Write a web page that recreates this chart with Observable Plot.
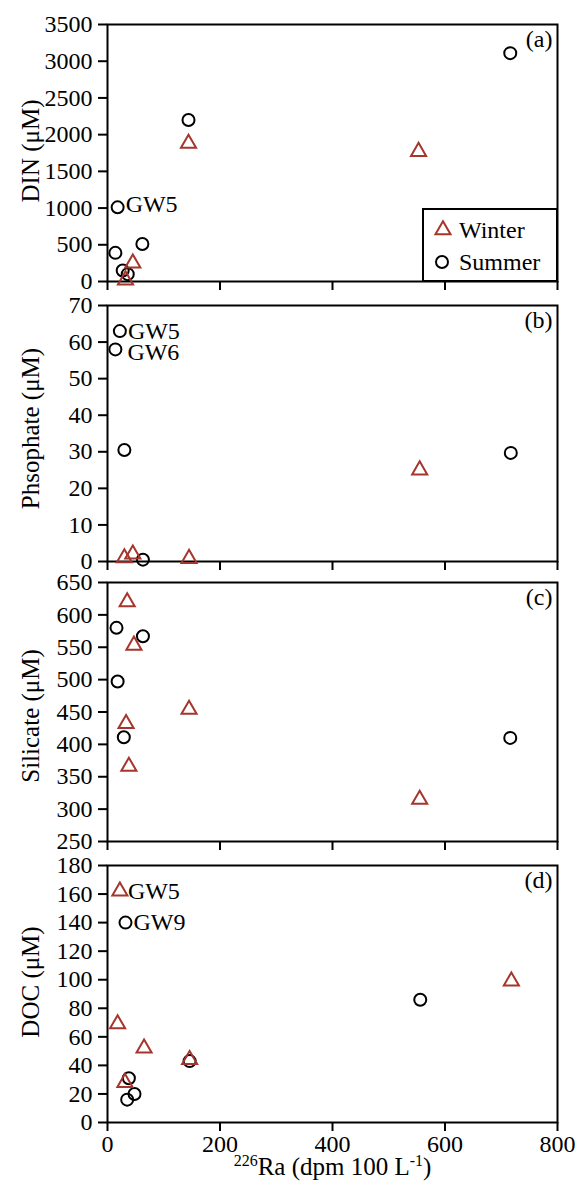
<!DOCTYPE html>
<html><head><meta charset="utf-8">
<script src="https://cdn.jsdelivr.net/npm/d3@7"></script>
<script src="https://cdn.jsdelivr.net/npm/@observablehq/plot@0.6"></script>
<style>
body{margin:0;background:#fff;}
#wrap{position:relative;width:576px;height:1187px;font-family:"Liberation Serif","Times New Roman",serif;}
#wrap svg{display:block;overflow:visible;}
#legend{position:absolute;left:0;top:0;pointer-events:none;}
</style></head><body><div id="wrap"></div>
<script>
// ---- data (x = 226Ra, dpm 100 L-1) ----
const xTicks = [0, 200, 400, 600, 800];

const dinWinterRa  = [32, 45, 144, 553];
const dinWinter    = [20, 250, 1880, 1770];
const dinSummerRa  = [18, 14, 62, 27, 36, 144, 716];
const dinSummer    = [1010, 390, 510, 150, 100, 2200, 3110];
const dinTicks     = [0, 500, 1000, 1500, 2000, 2500, 3000, 3500];

const phoWinterRa  = [30, 45, 145, 555];
const phoWinter    = [1, 2, 0.8, 25];
const phoSummerRa  = [22, 14, 30, 63, 717];
const phoSummer    = [63, 58, 30.5, 0.5, 29.7];
const phoTicks     = [0, 10, 20, 30, 40, 50, 60, 70];

const silWinterRa  = [35, 47, 145, 33, 38, 555];
const silWinter    = [620, 553, 454, 432, 366, 315];
const silSummerRa  = [16, 63, 18, 29, 716];
const silSummer    = [580, 567, 497, 411, 410];
const silTicks     = [250, 300, 350, 400, 450, 500, 550, 600, 650];

const docWinterRa  = [22, 18, 65, 146, 31, 718];
const docWinter    = [162, 69, 52, 44, 28, 99];
const docSummerRa  = [32, 146, 38, 48, 35, 556];
const docSummer    = [140, 43, 31, 20, 16, 86];
const docTicks     = [0, 20, 40, 60, 80, 100, 120, 140, 160, 180];

const seasons = ["Winter", "Summer"];
const xLabel = "226Ra (dpm 100 L-1)";

const RED = "#a5352d";
const FONT = '"Liberation Serif","Times New Roman",serif';

const zip = (xs, ys) => xs.map((x, i) => ({x, y: ys[i]}));

function panel(o) {
  const summer = zip(o.sRa, o.sVal);
  const winter = zip(o.wRa, o.wVal);
  const marks = [
    Plot.frame({stroke: "black", strokeWidth: 2}),
    Plot.axisY({ticks: o.yTicks, tickSize: 9, tickPadding: 6, strokeWidth: 2, label: null, tickFormat: "d"}),
    Plot.axisX({ticks: xTicks, tickSize: 9, tickPadding: 3, strokeWidth: 2, label: null,
                tickFormat: o.showX ? "d" : () => ""}),
    Plot.dot(summer, {x: "x", y: "y", r: 6, stroke: "black", strokeWidth: 2, fill: "none"}),
    Plot.dot(winter, {x: "x", y: "y", r: 5.6, symbol: "triangle", stroke: RED, strokeWidth: 2, fill: "none"}),
    Plot.text([o.tag], {frameAnchor: "top-right", dx: -5, dy: 5, lineAnchor: "top", textAnchor: "end", fontSize: 24}),
    Plot.text([o.yLabel], {frameAnchor: "left", rotate: -90, textAnchor: "middle", dx: -77, dy: o.labelDy, fontSize: 25})
  ];
  for (const a of o.notes) {
    const src = a.season === "Winter" ? winter : summer;
    marks.push(Plot.text([src[a.i]], {x: "x", y: "y", text: () => a.text, dx: a.dx, dy: a.dy || 0,
      textAnchor: "start", fontSize: 24}));
  }
  if (o.showX) {
    marks.push(Plot.text([xLabel], {frameAnchor: "bottom", dy: 52, fontSize: 25}));
  }
  const svg = Plot.plot({
    width: 576, height: o.height,
    marginLeft: 107, marginRight: 19, marginTop: o.mt, marginBottom: o.mb,
    x: {domain: [0, 800]},
    y: {domain: o.yDomain},
    style: {fontFamily: FONT, fontSize: "24px", color: "black", background: "transparent", overflow: "visible"},
    marks
  });
  if (o.showX) {
    d3.select(svg).selectAll("text").filter(function() { return this.textContent === xLabel; })
      .each(function() {
        const t = d3.select(this);
        t.text(null);
        t.append("tspan").attr("font-size", 16).attr("dy", -9).text("226");
        t.append("tspan").attr("dy", 9).text("Ra (dpm 100 L");
        t.append("tspan").attr("font-size", 16).attr("dy", -9).text("-1");
        t.append("tspan").attr("dy", 9).text(")");
      });
  }
  return svg;
}

const wrap = document.getElementById("wrap");

wrap.appendChild(panel({
  wRa: dinWinterRa, wVal: dinWinter, sRa: dinSummerRa, sVal: dinSummer,
  yDomain: [0, 3500], yTicks: dinTicks, yLabel: "DIN (μM)", labelDy: -2, tag: "(a)",
  height: 293, mt: 24, mb: 12,
  notes: [{season: "Summer", i: 0, text: "GW5", dx: 8, dy: -3}]
}));
wrap.appendChild(panel({
  wRa: phoWinterRa, wVal: phoWinter, sRa: phoSummerRa, sVal: phoSummer,
  yDomain: [0, 70], yTicks: phoTicks, yLabel: "Phsophate (μM)", labelDy: -5, tag: "(b)",
  height: 278, mt: 12, mb: 10,
  notes: [{season: "Summer", i: 0, text: "GW5", dx: 8}, {season: "Summer", i: 1, text: "GW6", dx: 12, dy: 3}]
}));
wrap.appendChild(panel({
  wRa: silWinterRa, wVal: silWinter, sRa: silSummerRa, sVal: silSummer,
  yDomain: [250, 650], yTicks: silTicks, yLabel: "Silicate (μM)", labelDy: 4, tag: "(c)",
  height: 280, mt: 11, mb: 10, notes: []
}));
wrap.appendChild(panel({
  wRa: docWinterRa, wVal: docWinter, sRa: docSummerRa, sVal: docSummer,
  yDomain: [0, 180], yTicks: docTicks, yLabel: "DOC (μM)", labelDy: -12, tag: "(d)",
  height: 336, mt: 14, mb: 65, showX: true,
  notes: [{season: "Winter", i: 0, text: "GW5", dx: 8}, {season: "Summer", i: 0, text: "GW9", dx: 8}]
}));

// legend box inside panel (a)
const lg = d3.select(wrap).append("svg").attr("id", "legend").attr("width", 576).attr("height", 293)
  .style("font-family", FONT).style("font-size", "24px");
lg.append("rect").attr("x", 423).attr("y", 209).attr("width", 134).attr("height", 72)
  .attr("fill", "white").attr("stroke", "black").attr("stroke-width", 2);
const rows = [{s: seasons[0], cy: 230, base: 238}, {s: seasons[1], cy: 262, base: 270}];
rows.forEach(r => {
  if (r.s === "Winter") {
    lg.append("path").attr("d", d3.symbol(d3.symbolTriangle, Math.PI * 5.6 * 5.6)())
      .attr("transform", `translate(443,${r.cy})`).attr("fill", "none").attr("stroke", RED).attr("stroke-width", 2);
  } else {
    lg.append("circle").attr("cx", 442).attr("cy", r.cy).attr("r", 6)
      .attr("fill", "none").attr("stroke", "black").attr("stroke-width", 2);
  }
  lg.append("text").attr("x", 459).attr("y", r.base).text(r.s);
});
</script></body></html>
